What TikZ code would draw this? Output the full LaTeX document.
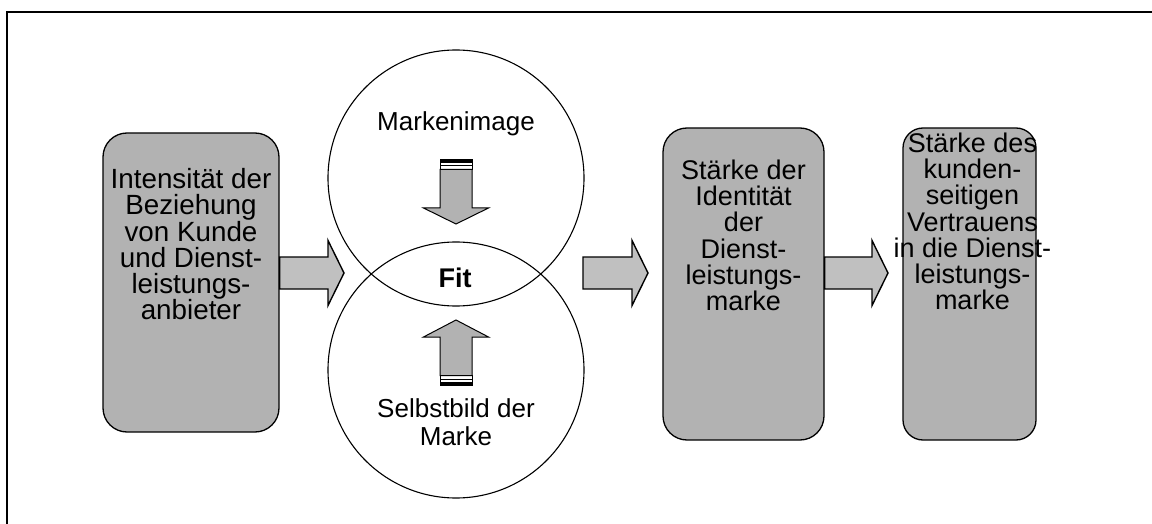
\documentclass[tikz,border=0pt]{standalone}
\usepackage{fontspec}
\setmainfont{Liberation Sans}
\usetikzlibrary{calc}
\definecolor{boxgray}{RGB}{178,178,178}
\definecolor{arrowgray}{RGB}{192,192,192}

% block arrow from a tail point to a tip point (horizontal)
\newcommand\fatarrow[2]{%
  \draw[blockarrow] ($(#1)+(0,-16)$) -- ($(#2)+(-16,-16)$) -- ($(#2)+(-16,-32.5)$)
    -- (#2) -- ($(#2)+(-16,32.5)$) -- ($(#2)+(-16,16)$) -- ($(#1)+(0,16)$) -- cycle;}

\begin{document}
\begin{tikzpicture}[x=1pt,y=-1pt,
  lbl/.style={font=\fontsize{26}{26}\selectfont, inner sep=0pt, align=center},
  boxlbl/.style={lbl, font=\fontsize{27}{26.3}\selectfont},
  stage/.style={draw=black, line width=1.3pt, fill=boxgray, rounded corners=24pt, inner sep=0pt},
  ring/.style={draw=black, line width=1.1pt, circle, inner sep=0pt, minimum size=256pt},
  blockarrow/.style={draw=black, line width=1.4pt, fill=arrowgray, line join=miter},
  smallarrow/.style={draw=black, line width=1pt, fill=boxgray, line join=miter}]
\useasboundingbox (0,0) rectangle (1152,524);

% frame
\draw[line width=1.5pt] (7,524) -- (7,12) -- (1152,12);

% horizontal axis of the flow
\coordinate (axis) at (0,273);

% stages
\node[stage, minimum width=176pt, minimum height=299pt] (intens) at (191,282.5) {};
\node[stage, minimum width=161pt, minimum height=312pt] (ident) at (743.5,284) {};
\node[stage, minimum width=133pt, minimum height=312pt, rounded corners=20pt] (trust) at (969.5,284) {};

% overlapping circles
\node[ring] (image) at (456,178) {};
\node[ring] (self) at (456,370) {};

% stage texts
\node[boxlbl, font=\fontsize{27.8}{26.2}\selectfont, anchor=north] (intensT) at ($(intens.north)+(0,36)$)
  {Intensität der\\Beziehung\\von Kunde\\und Dienst-\\leistungs-\\anbieter};
\node[boxlbl, anchor=north] (identT) at ($(ident.north)+(0,32)$)
  {Stärke der\\Identität\\der\\Dienst-\\leistungs-\\marke};
\node[boxlbl, anchor=north] (trustT) at ($(trust.north)+(3,5)$)
  {Stärke des\\kunden-\\seitigen\\Vertrauens\\in die Dienst-\\leistungs-\\marke};

% circle texts
\node[lbl, anchor=base] (imageT) at (456,131) {Markenimage};
\node[lbl, font=\fontsize{27}{26}\selectfont\bfseries, anchor=base] (fit) at (455,287) {Fit};
\node[lbl, font=\fontsize{26}{28}\selectfont, anchor=north] (selfT) at (456,398) {Selbstbild der\\Marke};

% block arrows between the stages
\coordinate (a1e) at (344,273);
\coordinate (a2s) at (583,273);
\coordinate (a2e) at (648,273);
\coordinate (a3e) at (888,273);
\fatarrow{intens.east |- axis}{a1e}
\fatarrow{a2s}{a2e}
\fatarrow{ident.east |- axis}{a3e}

% striped arrow pointing down to the fit
\draw[line width=1pt, fill=white] (440,160) rectangle (472,169.5);
\fill (440,160) rectangle (472,162.8);
\draw[line width=1pt] (440,165.8) -- (472,165.8);
\draw[smallarrow] (440,169.5) -- (472,169.5) -- (472,208) -- (488.5,208) -- (456,224)
  -- (423.5,208) -- (440,208) -- cycle;

% striped arrow pointing up to the fit
\draw[line width=1pt, fill=white] (440,375.5) rectangle (472,385);
\fill (440,382.2) rectangle (472,385);
\draw[line width=1pt] (440,379.2) -- (472,379.2);
\draw[smallarrow] (440,375.5) -- (440,337) -- (423.5,337) -- (456,320) -- (488.5,337)
  -- (472,337) -- (472,375.5) -- cycle;
\end{tikzpicture}
\end{document}
